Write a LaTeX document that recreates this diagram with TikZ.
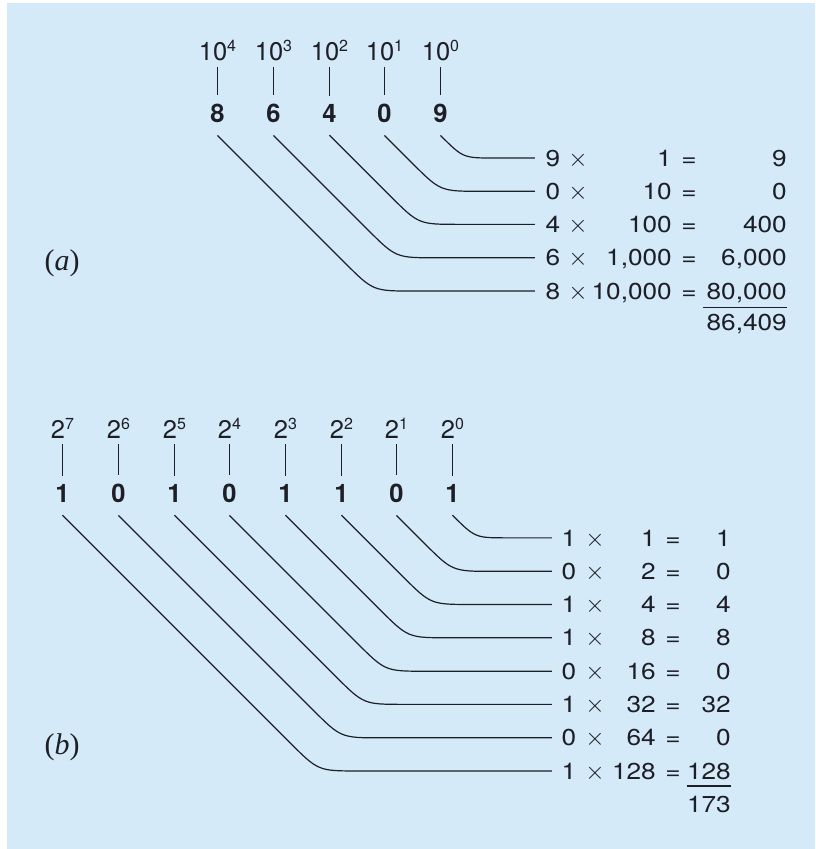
\documentclass[tikz,border=0pt]{standalone}
\usepackage{fontspec}
\usepackage{graphicx}
\setmainfont{TeX Gyre Heros}
\newfontfamily\labfont{Liberation Serif}
\usetikzlibrary{calc}
\definecolor{bgblue}{RGB}{213,234,249}
\definecolor{ink}{RGB}{30,30,38}
\newcommand\pw[2]{#1\raisebox{8.5pt}{\fontsize{16}{16}\selectfont #2}}
\newcommand\rt[1]{\scalebox{1.14}[1]{#1}}
\newcommand\tms{{\fontsize{26}{26}\selectfont$\times$}}
\newcommand\wireconn[2]{\draw[wire] let \p1=(#1.south), \p2=(#2.west), \n1={\y1-5pt-\y2}, \n2={min(40,1.41421*\n1)} in ({\x1},{\y1-5pt}) -- ({\x1+\n1-0.7071*\n2},{\y2+0.7071*\n2}) .. controls ({\x1+\n1},{\y2}) .. ({\x1+\n1+\n2},{\y2}) -- (\p2);}
\tikzset{
  pow/.style={font=\fontsize{25.5}{30}\selectfont, text=ink, inner xsep=0pt, inner ysep=6pt, anchor=base},
  dig/.style={font=\fontsize{25.5}{30}\selectfont\bfseries, text=ink, inner xsep=0pt, inner ysep=8pt, anchor=base},
  bar/.style={line width=1.2pt, draw=ink},
  wire/.style={line width=1.2pt, draw=ink},
  rowtxt/.style={font=\fontsize{23}{27}\selectfont, text=ink, inner sep=0pt},
  mult/.style={rowtxt, minimum width=36pt, anchor=base},
  lab/.style={font=\labfont\fontsize{30}{34}\selectfont, text=ink, inner sep=0pt}
}
\begin{document}
\begin{tikzpicture}[x=1pt,y=-1pt]
\fill[white] (0,0) rectangle (815,849);
\fill[bgblue] (7,3) rectangle (815,849);
\useasboundingbox (0,0) rectangle (815,849);
% ---------- (a) ----------
\node[lab] (la) at (62,263) {(\textit{a})};
\foreach \d [count=\k from 0] in {9,0,4,6,8} {
  \node[pow] (pa\k) at ({round(440-55.75*\k)+0.5},60) {\pw{10}{\k}};
  \node[dig] (da\k) at ({round(440-55.75*\k)+0.5},122) {\d};
  \draw[bar] (pa\k) -- (da\k);
}
\foreach \m/\v/\r [count=\k from 0] in {9/1/9, 0/10/0, 4/100/400, 6/{1,000}/{6,000}, 8/{10,000}/{80,000}} {
  \node[mult] (ma\k) at (553,{166+33.25*\k}) {\rt{\m}};
  \node[rowtxt, anchor=base] (xa\k) at (578,{166+33.25*\k}) {\tms};
  \node[rowtxt, anchor=base east] (va\k) at (672,{166+33.25*\k}) {\rt{\v}};
  \node[rowtxt, anchor=base] (ea\k) at (689,{166+33.25*\k}) {\rt{=}};
  \node[rowtxt, anchor=base east] (ra\k) at (787,{166+33.25*\k}) {\rt{\r}};
  \wireconn{da\k}{ma\k}
}
\node[rowtxt, anchor=base east, inner ysep=6pt] (ta) at (787,330) {\rt{86,409}};
\draw[line width=1.2pt, draw=ink] ([xshift=-3pt]ta.north west) -- (ta.north east);
% ---------- (b) ----------
\node[lab] (lb) at (62,747) {(\textit{b})};
\foreach \d [count=\k from 0] in {1,0,1,1,0,1,0,1} {
  \node[pow] (pb\k) at ({round(452-55.7*\k)+0.5},438) {\pw{2}{\k}};
  \node[dig] (db\k) at ({round(452-55.7*\k)+0.5},502) {\d};
  \draw[bar] (pb\k) -- (db\k);
}
\foreach \m/\v/\r [count=\k from 0] in {1/1/1, 0/2/0, 1/4/4, 1/8/8, 0/16/0, 1/32/32, 0/64/0, 1/128/128} {
  \node[mult, minimum width=34pt] (mb\k) at (569,{546+33.3*\k}) {\rt{\m}};
  \node[rowtxt, anchor=base] (xb\k) at (595,{546+33.3*\k}) {\tms};
  \node[rowtxt, anchor=base east] (vb\k) at (656,{546+33.3*\k}) {\rt{\v}};
  \node[rowtxt, anchor=base] (eb\k) at (673,{546+33.3*\k}) {\rt{=}};
  \node[rowtxt, anchor=base east] (rb\k) at (731,{546+33.3*\k}) {\rt{\r}};
  \wireconn{db\k}{mb\k}
}
\node[rowtxt, anchor=base east, inner ysep=9.5pt] (tb) at (731,812) {\rt{173}};
\draw[line width=1.2pt, draw=ink] (tb.north west) -- (tb.north east);
\end{tikzpicture}
\end{document}
